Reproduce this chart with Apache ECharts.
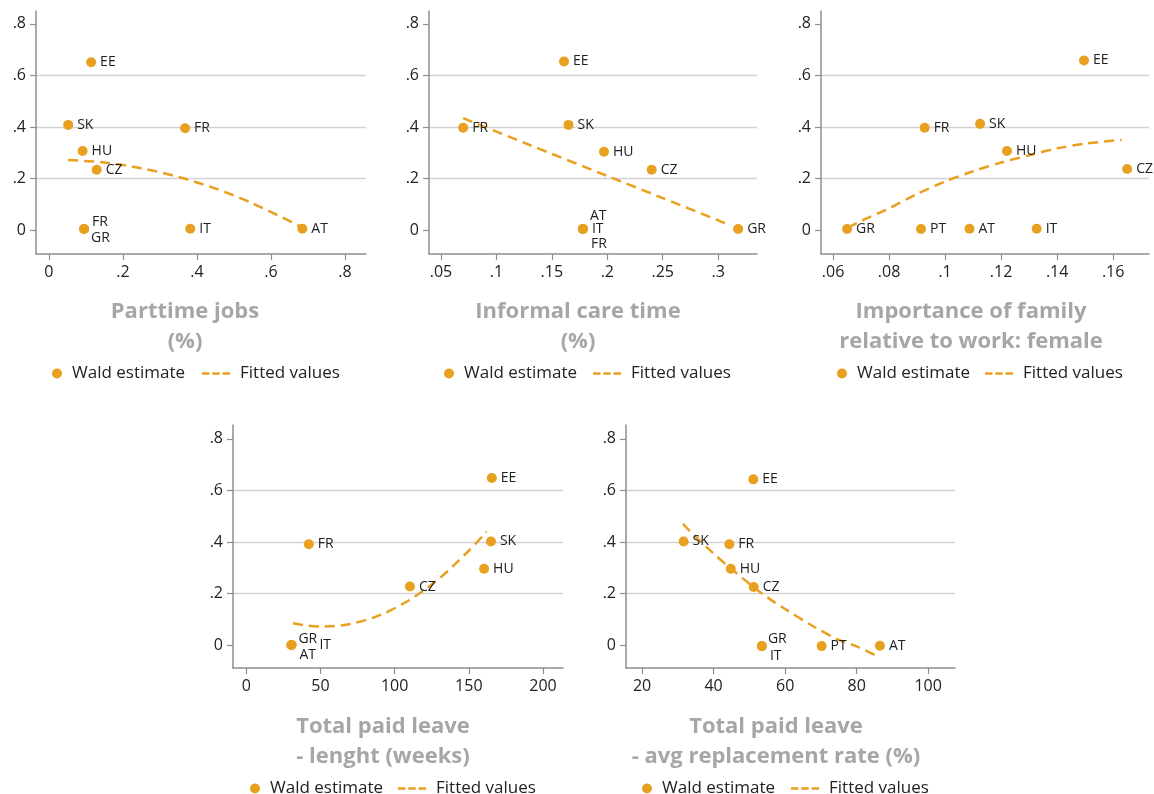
<!DOCTYPE html>
<html>
<head>
<meta charset="utf-8">
<script src="https://cdn.jsdelivr.net/npm/echarts@6/dist/echarts.min.js"></script>
<style>
html,body{margin:0;padding:0;background:#fff;}
#chart{width:1154px;height:794px;}
</style>
</head>
<body>
<div id="chart"></div>
<script>
// ---------- DATA ----------
const yTicks = [0, 0.2, 0.4, 0.6, 0.8];

// Panel 1: Parttime jobs
const countries1 = ['EE','SK','FR','HU','CZ','FR','GR','IT','AT'];
const x1 = [0.114, 0.052, 0.368, 0.091, 0.129, 0.095, 0.095, 0.382, 0.685];
const y1 = [0.651, 0.408, 0.395, 0.307, 0.234, 0.004, 0.004, 0.005, 0.005];
const fitX1 = [0.052, 0.15, 0.25, 0.35, 0.45, 0.55, 0.685];
const fitY1 = [0.272, 0.262, 0.240, 0.206, 0.161, 0.104, 0.010];
const xTicks1 = [0, 0.2, 0.4, 0.6, 0.8];

// Panel 2: Informal care time
const countries2 = ['EE','FR','SK','HU','CZ','AT','IT','FR','GR'];
const x2 = [0.161, 0.070, 0.165, 0.197, 0.240, 0.178, 0.178, 0.178, 0.318];
const y2 = [0.654, 0.397, 0.408, 0.304, 0.234, 0.004, 0.004, 0.004, 0.004];
const fitX2 = [0.070, 0.130, 0.200, 0.250, 0.310];
const fitY2 = [0.434, 0.330, 0.210, 0.124, 0.020];
const xTicks2 = [0.05, 0.1, 0.15, 0.2, 0.25, 0.3];

// Panel 3: Importance of family relative to work: female
const countries3 = ['EE','FR','SK','HU','CZ','GR','PT','AT','IT'];
const x3 = [0.1496, 0.0927, 0.1125, 0.1221, 0.1650, 0.0650, 0.0914, 0.1087, 0.1327];
const y3 = [0.658, 0.397, 0.412, 0.307, 0.237, 0.004, 0.004, 0.005, 0.005];
const fitX3 = [0.0653, 0.07, 0.08, 0.09, 0.10, 0.11, 0.12, 0.13, 0.14, 0.15, 0.163];
const fitY3 = [0.010, 0.035, 0.084, 0.140, 0.188, 0.228, 0.262, 0.290, 0.317, 0.335, 0.350];
const xTicks3 = [0.06, 0.08, 0.1, 0.12, 0.14, 0.16];

// Panel 4: Total paid leave - length (weeks)
const countries4 = ['EE','FR','SK','HU','CZ','GR','IT','AT'];
const x4 = [165.5, 42.1, 164.9, 160.3, 110.3, 30.4, 30.4, 30.4];
const y4 = [0.648, 0.391, 0.402, 0.296, 0.227, 0.000, 0.000, 0.000];
const fitX4 = [31.5, 40, 52, 70, 90, 110, 130, 150, 162];
const fitY4 = [0.085, 0.076, 0.072, 0.082, 0.116, 0.175, 0.258, 0.366, 0.440];
const xTicks4 = [0, 50, 100, 150, 200];

// Panel 5: Total paid leave - avg replacement rate (%)
const countries5 = ['EE','SK','FR','HU','CZ','GR','IT','PT','AT'];
const x5 = [51.1, 31.6, 44.4, 44.8, 51.2, 53.5, 53.5, 70.2, 86.5];
const y5 = [0.643, 0.402, 0.391, 0.296, 0.225, -0.004, -0.004, -0.004, -0.003];
const fitX5 = [31.4, 35, 40, 45, 51.2, 55, 60, 67.6, 75, 80, 85.9];
const fitY5 = [0.470, 0.420, 0.355, 0.295, 0.225, 0.185, 0.140, 0.075, 0.020, -0.005, -0.044];
const xTicks5 = [20, 40, 60, 80, 100];

const titles = [
  'Parttime jobs\n(%)',
  'Informal care time\n(%)',
  'Importance of family\nrelative to work: female',
  'Total paid leave\n- lenght (weeks)',
  'Total paid leave\n- avg replacement rate (%)'
];
const legendNames = ['Wald estimate', 'Fitted values'];

// ---------- STYLE / LAYOUT ----------
const ORANGE = '#E8A020';
const FONT = '"Open Sans", "Noto Sans", sans-serif';
const grids = [
  {left: 36,  top: 11,  width: 330, height: 243},
  {left: 429, top: 11,  width: 328, height: 243},
  {left: 821, top: 11,  width: 328, height: 243},
  {left: 233, top: 425, width: 330, height: 243},
  {left: 626, top: 425, width: 329, height: 243}
];
const xRanges = [[-0.035, 0.857], [0.0392, 0.335], [0.0557, 0.1728], [-9, 213.5], [15.5, 107.5]];
const yRanges = [[-0.093, 0.85], [-0.093, 0.85], [-0.093, 0.85], [-0.089, 0.854], [-0.089, 0.854]];
const titlePos = [[185, 297], [578, 297], [971, 297], [383, 712], [776, 712]];
// [wald legend left, fitted legend left, top]
const legendPos = [[52, 202, 365], [444, 593, 365], [837, 985, 365], [250, 398, 780], [642, 791, 780]];
const labelOffsets = [
  {5: [-1, -7], 6: [-2, 9]},
  {5: [-2, -13], 7: [-1, 15]},
  {},
  {5: [-2, -6], 6: [19, 0], 7: [-1, 10]},
  {5: [-3, -7], 6: [-1, 10]}
];
const DASH_ICON = 'path://M0,0H8V2.6H0Z M11,0H19V2.6H11Z M22,0H30V2.6H22Z';

const panels = [
  {c: countries1, x: x1, y: y1, fx: fitX1, fy: fitY1, xt: xTicks1},
  {c: countries2, x: x2, y: y2, fx: fitX2, fy: fitY2, xt: xTicks2},
  {c: countries3, x: x3, y: y3, fx: fitX3, fy: fitY3, xt: xTicks3},
  {c: countries4, x: x4, y: y4, fx: fitX4, fy: fitY4, xt: xTicks4},
  {c: countries5, x: x5, y: y5, fx: fitX5, fy: fitY5, xt: xTicks5}
];

function fmt(v) {
  let s = String(Number(Number(v).toFixed(6)));
  return s.replace(/^0\./, '.').replace(/^-0\./, '-.');
}

const legendText = {fontSize: 17, color: '#222', fontFamily: FONT, padding: [0, 0, 0, 5]};
const legends = [];
legendPos.forEach(p => {
  legends.push({
    data: [{name: legendNames[0], icon: 'circle'}],
    left: p[0], top: p[2], padding: 0,
    itemWidth: 10, itemHeight: 10, textGap: 5,
    textStyle: legendText,
    selectedMode: false
  });
  legends.push({
    data: [{name: legendNames[1], icon: DASH_ICON}],
    left: p[1], top: p[2], padding: 0,
    itemWidth: 28, itemHeight: 10, textGap: 5,
    textStyle: legendText,
    selectedMode: false
  });
});

const axisLineStyle = {color: '#8e8e8e', width: 1.5};
const option = {
  animation: false,
  backgroundColor: '#ffffff',
  textStyle: {fontFamily: FONT},
  grid: grids.map(g => Object.assign({containLabel: false}, g)),
  title: titles.map((t, i) => ({
    text: t,
    left: titlePos[i][0],
    top: titlePos[i][1],
    textAlign: 'center',
    padding: 0,
    textStyle: {fontSize: 22, fontWeight: 'bold', color: '#a6a6a6', lineHeight: 30, fontFamily: FONT}
  })),
  legend: legends,
  xAxis: panels.map((p, i) => ({
    type: 'value',
    gridIndex: i,
    min: xRanges[i][0],
    max: xRanges[i][1],
    axisLine: {show: true, onZero: false, lineStyle: axisLineStyle},
    axisTick: {show: true, length: 6, customValues: p.xt, lineStyle: {color: '#8e8e8e', width: 1.2}},
    axisLabel: {customValues: p.xt, formatter: fmt, fontSize: 16, color: '#222', margin: 10, fontFamily: FONT},
    splitLine: {show: false}
  })),
  yAxis: panels.map((p, i) => ({
    type: 'value',
    gridIndex: i,
    min: yRanges[i][0],
    max: yRanges[i][1],
    axisLine: {show: true, onZero: false, lineStyle: axisLineStyle},
    axisTick: {show: true, length: 6, customValues: yTicks, lineStyle: {color: '#8e8e8e', width: 1.2}},
    axisLabel: {customValues: yTicks, formatter: fmt, fontSize: 16, color: '#222', margin: 10, fontFamily: FONT},
    splitLine: {show: true, showMinLine: false, showMaxLine: false, lineStyle: {color: '#d2d2d2', width: 1.3}}
  })),
  series: []
};

panels.forEach((p, i) => {
  option.series.push({
    name: legendNames[0],
    type: 'scatter',
    xAxisIndex: i,
    yAxisIndex: i,
    symbol: 'circle',
    symbolSize: 10,
    itemStyle: {color: ORANGE, opacity: 1},
    label: {show: true, position: 'right', distance: 4, formatter: '{b}', fontSize: 14, color: '#222', fontFamily: FONT},
    z: 3,
    data: p.c.map((name, k) => {
      const item = {name: name, value: [p.x[k], p.y[k]]};
      if (labelOffsets[i][k]) item.label = {offset: labelOffsets[i][k]};
      return item;
    })
  });
  option.series.push({
    name: legendNames[1],
    type: 'line',
    xAxisIndex: i,
    yAxisIndex: i,
    smooth: 0.3,
    symbol: 'none',
    showSymbol: false,
    lineStyle: {color: ORANGE, width: 2.5, type: [10, 6]},
    itemStyle: {color: ORANGE},
    z: 2,
    data: p.fx.map((x, k) => [x, p.fy[k]])
  });
});

const chart = echarts.init(document.getElementById('chart'), null, {renderer: 'canvas'});
chart.setOption(option);
</script>
</body>
</html>
